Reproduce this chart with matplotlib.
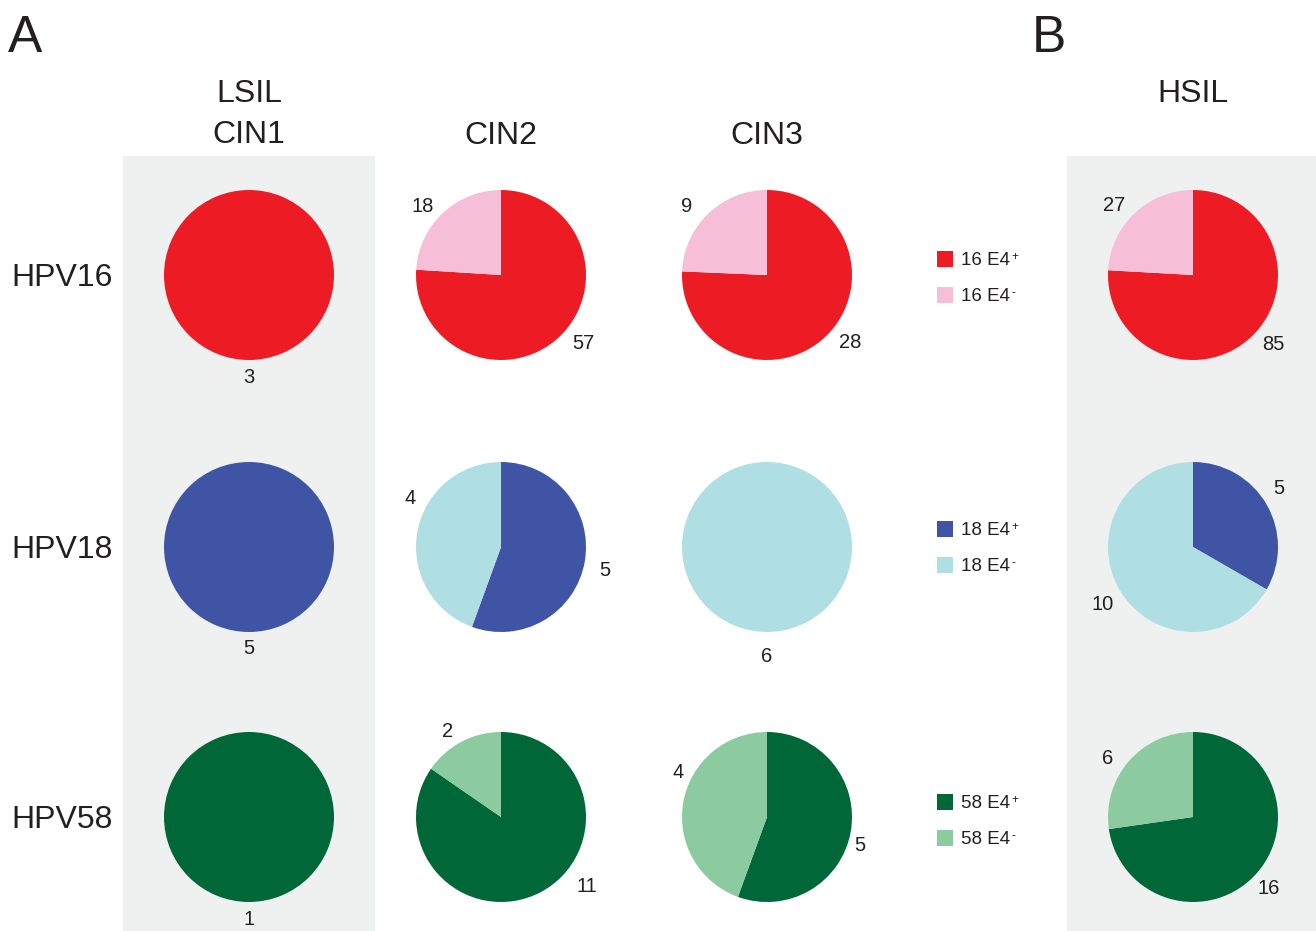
import matplotlib
matplotlib.use("Agg")
import matplotlib.pyplot as plt
from matplotlib.patches import Rectangle

plt.rcParams['font.family'] = ['Liberation Sans', 'DejaVu Sans']

# ---- data ----
types = ["HPV16", "HPV18", "HPV58"]
grades = ["LSIL\nCIN1", "CIN2", "CIN3", "HSIL"]
# counts of E4-positive and E4-negative lesions, rows = types, cols = grades
e4_pos = [[3, 57, 28, 85],
          [5, 5, 0, 5],
          [1, 11, 5, 16]]
e4_neg = [[0, 18, 9, 27],
          [0, 4, 6, 10],
          [0, 2, 4, 6]]
legend_names = ["16 E4", "18 E4", "58 E4"]
legend_sups = ["+", "-"]
pos_colors = ["#ED1C24", "#3F54A5", "#006838"]
neg_colors = ["#F7BFD7", "#B0DFE3", "#8CCBA0"]

# ---- layout (pixels) ----
W, H = 1316, 931
col_x = [249, 501, 767, 1193]
row_y = [275, 547, 817]
R = 85
half = 140
# label offsets from pie centre (dx, dy in px, y downwards): (positive label, negative label)
label_off = {
    (0, 0): ((0, 102), None), (0, 1): ((82, 68), (-78, -69)),
    (0, 2): ((83, 67), (-80, -69)), (0, 3): ((80, 69), (-79, -70)),
    (1, 0): ((0, 101), None), (1, 1): ((104, 23), (-91, -49)),
    (1, 2): (None, (0, 110)), (1, 3): ((86, -59), (-90, 58)),
    (2, 0): ((0, 102), None), (2, 1): ((86, 70), (-53, -86)),
    (2, 2): ((93, 28), (-89, -44)), (2, 3): ((76, 71), (-85, -59)),
}
TXT = '#231F20'

fig = plt.figure(figsize=(W / 100, H / 100), dpi=100)

def fx(x):
    return x / W

def fy(y):
    return 1 - y / H

bg = "#EFF0F0"
fig.patches.append(Rectangle((fx(123), 0), fx(375) - fx(123), fy(156), transform=fig.transFigure,
                             facecolor=bg, edgecolor='none', zorder=-5))
fig.patches.append(Rectangle((fx(1067), 0), 1 - fx(1067), fy(156), transform=fig.transFigure,
                             facecolor=bg, edgecolor='none', zorder=-5))

for i in range(3):
    for j in range(4):
        cx, cy = col_x[j], row_y[i]
        ax = fig.add_axes([fx(cx - half), fy(cy + half), 2 * half / W, 2 * half / H])
        ax.axis('off')
        vals, cols, offs = [], [], []
        po, no = label_off[(i, j)]
        if e4_pos[i][j] > 0:
            vals.append(e4_pos[i][j]); cols.append(pos_colors[i]); offs.append(po)
        if e4_neg[i][j] > 0:
            vals.append(e4_neg[i][j]); cols.append(neg_colors[i]); offs.append(no)
        ax.pie(vals, colors=cols, startangle=90, counterclock=False,
               wedgeprops=dict(linewidth=0))
        for v, (dx, dy) in zip(vals, offs):
            ax.text(dx / R, -dy / R, str(v), ha='center', va='center', fontsize=14.5, color=TXT)
        ax.set_xlim(-half / R, half / R)
        ax.set_ylim(-half / R, half / R)
        ax.set_aspect('equal')

# headers
lsil, cin1 = grades[0].split("\n")
fig.text(fx(249), fy(102), lsil, ha='center', va='baseline', fontsize=23, color=TXT)
fig.text(fx(249), fy(143), cin1, ha='center', va='baseline', fontsize=23, color=TXT)
fig.text(fx(501), fy(144), grades[1], ha='center', va='baseline', fontsize=23, color=TXT)
fig.text(fx(767), fy(144), grades[2], ha='center', va='baseline', fontsize=23, color=TXT)
fig.text(fx(1193), fy(102), grades[3], ha='center', va='baseline', fontsize=23, color=TXT)

for i, t in enumerate(types):
    fig.text(fx(11), fy(row_y[i] + 11), t, ha='left', va='baseline', fontsize=23, color=TXT)

fig.text(fx(8), fy(52), "A", ha='left', va='baseline', fontsize=37, color=TXT)
fig.text(fx(1032), fy(52), "B", ha='left', va='baseline', fontsize=37, color=TXT)

# legends
leg_y = [(259, 295), (529, 565), (802, 838)]
for i in range(3):
    for k, (y, col) in enumerate(zip(leg_y[i], [pos_colors[i], neg_colors[i]])):
        fig.patches.append(Rectangle((fx(937), fy(y + 8)), 16 / W, 16 / H, transform=fig.transFigure,
                                     facecolor=col, edgecolor='none'))
        t = fig.text(fx(961), fy(y + 6), legend_names[i], ha='left', va='baseline',
                     fontsize=13.5, color=TXT)
        fig.add_artist(matplotlib.text.Annotation(
            legend_sups[k], xy=(1.0, 1.08), xycoords=t, ha='left', va='top',
            fontsize=8.5, color=TXT, xytext=(1.0, 0), textcoords='offset points',
            annotation_clip=False))

fig.savefig("out.png", dpi=100, facecolor='white')
